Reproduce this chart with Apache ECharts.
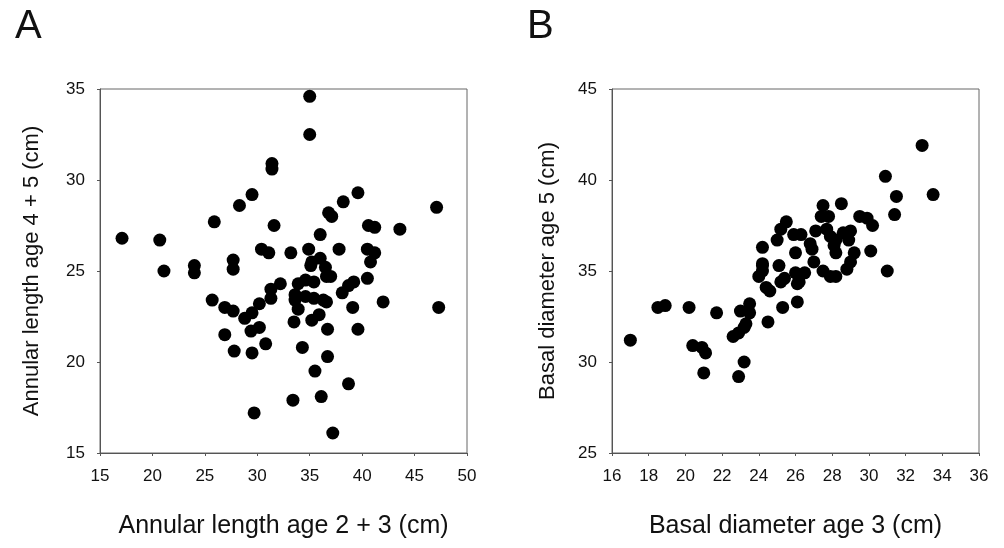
<!DOCTYPE html>
<html>
<head>
<meta charset="utf-8">
<script src="https://cdn.jsdelivr.net/npm/echarts@6/dist/echarts.min.js"></script>
<style>
html,body{margin:0;padding:0;background:#fff;}
#chart{width:1004px;height:548px;}
</style>
</head>
<body>
<div id="chart"></div>
<script>
// Panel A: annular length age 2+3 (x) vs age 4+5 (y), cm
const annularPoints = [
  [17.1,26.8],[20.7,26.7],[21.1,25.0],[24.0,25.3],[24.0,24.9],[25.9,27.7],[25.7,23.4],[26.9,23.0],
  [26.9,21.5],[27.7,22.8],[27.7,25.6],[27.7,25.1],[27.8,20.6],[28.3,28.6],[28.8,22.4],[29.5,29.2],
  [29.5,22.7],[29.4,21.7],[29.5,20.5],[29.7,17.2],[30.2,21.9],[30.2,23.2],[30.4,26.2],[30.8,21.0],
  [31.1,26.0],[31.4,30.9],[31.4,30.6],[31.6,27.5],[31.3,24.0],[31.3,23.5],[32.2,24.3],[33.2,26.0],
  [33.4,17.9],[33.5,22.2],[33.6,23.7],[33.6,23.4],[33.9,24.3],[33.9,22.9],[34.3,20.8],[34.6,24.5],
  [34.6,23.6],[34.9,26.2],[35.0,34.6],[35.0,32.5],[35.1,25.3],[35.2,25.5],[35.2,22.3],[35.4,24.4],
  [35.4,23.5],[35.5,19.5],[35.9,22.6],[36.0,25.7],[36.0,27.0],[36.1,18.1],[36.3,23.4],[36.5,25.2],
  [36.6,24.7],[36.6,23.3],[36.7,21.8],[36.7,20.3],[36.8,28.2],[37.0,24.7],[37.1,28.0],[37.2,16.1],
  [37.8,26.2],[38.1,23.8],[38.2,28.8],[38.7,18.8],[38.7,24.2],[39.2,24.4],[39.1,23.0],[39.6,29.3],
  [39.6,21.8],[40.5,26.2],[40.5,24.6],[40.6,27.5],[40.8,25.5],[41.2,27.4],[41.2,26.0],[42.0,23.3],
  [43.6,27.3],[47.1,28.5],[47.3,23.0]
];
// Panel B: basal diameter age 3 (x) vs age 5 (y), cm
const basalPoints = [
  [17.0,31.2],[18.5,33.0],[18.9,33.1],[20.2,33.0],[20.4,30.9],[20.9,30.8],[21.1,30.5],[21.0,29.4],
  [21.7,32.7],[22.6,31.4],[22.9,31.6],[23.2,31.9],[23.3,32.1],[23.2,30.0],[22.9,29.2],[23.0,32.8],
  [23.5,32.7],[23.5,33.2],[24.5,32.2],[25.3,33.0],[26.1,33.3],[24.0,34.7],[24.2,35.3],[24.2,35.0],
  [24.4,34.1],[24.6,33.9],[25.1,35.3],[25.2,34.4],[25.4,34.6],[26.0,34.9],[26.1,34.3],[25.5,37.7],
  [25.2,37.3],[25.0,36.7],[24.2,36.3],[24.2,35.4],[26.0,36.0],[25.9,37.0],[32.9,41.9],[30.9,40.2],
  [31.5,39.1],[33.5,39.2],[31.4,38.1],[27.5,38.6],[28.5,38.7],[27.4,38.0],[27.8,38.0],[29.5,38.0],
  [29.9,37.9],[30.2,37.5],[27.7,37.3],[27.9,36.9],[27.1,37.2],[26.3,37.0],[29.0,37.2],[28.9,36.7],
  [28.2,36.7],[26.8,36.5],[28.1,36.4],[28.2,36.0],[29.2,36.0],[30.1,36.1],[27.0,35.5],[29.0,35.5],
  [31.0,35.0],[26.5,34.9],[27.5,35.0],[27.9,34.7],[28.2,34.7],[28.8,35.1],[26.9,36.2],[28.6,37.1],
  [26.2,34.4]
];
const panelLabels = ['A','B'];
const xTitles = ['Annular length age 2 + 3 (cm)','Basal diameter age 3 (cm)'];
const yTitles = ['Annular length age 4 + 5 (cm)','Basal diameter age 5 (cm)'];
const xRanges = [[15,50,5],[16,36,2]];
const yRanges = [[15,35,5],[25,45,5]];

const FONT = '"Liberation Sans", Arial, sans-serif';
const chart = echarts.init(document.getElementById('chart'), null, {renderer:'canvas'});

function axisCommon(labelMargin, titleSize){
  return {
    axisLine:{show:true, lineStyle:{color:'#555', width:1}},
    axisTick:{show:true, inside:false, length:3, lineStyle:{color:'#555'}},
    axisLabel:{color:'#111', fontSize:17, fontFamily:FONT, margin:labelMargin},
    splitLine:{show:false},
    nameLocation:'middle',
    nameTextStyle:{color:'#111', fontSize:titleSize, fontFamily:FONT}
  };
}

const grids = [
  {left:100, top:89, width:367, height:364},
  {left:612, top:89, width:367, height:364}
].map(g => Object.assign(g, {show:true, borderColor:'#666', borderWidth:1, backgroundColor:'transparent'}));

const xAxes = [0,1].map(i => Object.assign(axisCommon(15, 25), {
  type:'value', gridIndex:i, min:xRanges[i][0], max:xRanges[i][1], interval:xRanges[i][2],
  name:xTitles[i], nameGap:61
}));
const yAxes = [0,1].map(i => Object.assign(axisCommon(15, 22), {
  type:'value', gridIndex:i, min:yRanges[i][0], max:yRanges[i][1], interval:yRanges[i][2],
  name:yTitles[i], nameGap: i===0 ? 57 : 53
}));

chart.setOption({
  animation:false,
  backgroundColor:'#fff',
  title: panelLabels.map((t,i) => ({
    text:t, left: i===0 ? 10 : 522, top: 2,
    textStyle:{fontSize:40, fontWeight:'normal', color:'#111', fontFamily:FONT}
  })),
  grid: grids,
  xAxis: xAxes,
  yAxis: yAxes,
  series: [
    {type:'scatter', xAxisIndex:0, yAxisIndex:0, data:annularPoints, symbol:'circle', symbolSize:13,
     itemStyle:{color:'#000', opacity:1}},
    {type:'scatter', xAxisIndex:1, yAxisIndex:1, data:basalPoints, symbol:'circle', symbolSize:13,
     itemStyle:{color:'#000', opacity:1}}
  ]
});
</script>
</body>
</html>
